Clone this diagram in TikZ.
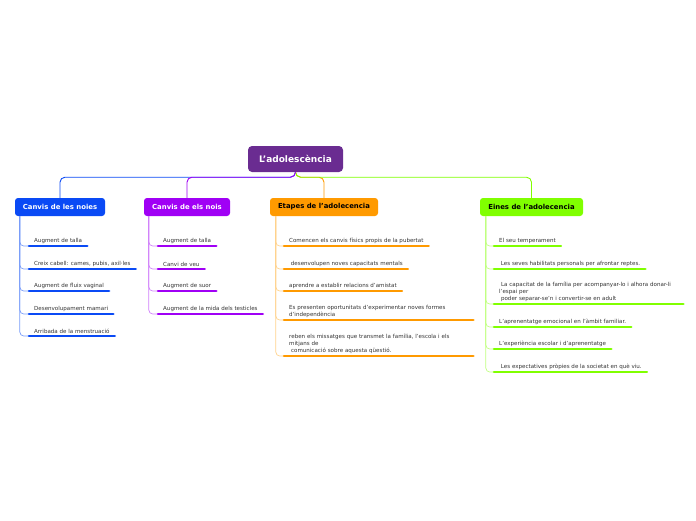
\documentclass[tikz,border=0pt]{standalone}
\usepackage{fontspec}
\setmainfont{DejaVu Sans}
\definecolor{rootc}{HTML}{6A2C91}
\definecolor{bluec}{HTML}{0A4AF5}
\definecolor{purc}{HTML}{A000F5}
\definecolor{orac}{HTML}{FF9A00}
\definecolor{grec}{HTML}{80FF00}
\definecolor{txtc}{HTML}{333333}
\begin{document}
\begin{tikzpicture}[x=1pt,y=-1pt,
  rootbox/.style={fill=rootc,text=white,rounded corners=4pt,minimum width=95pt,minimum height=26pt,font=\bfseries\fontsize{9}{10}\selectfont,inner sep=0pt},
  branchbox/.style={rounded corners=3pt,minimum height=18pt,font=\bfseries\fontsize{6.9}{8}\selectfont,inner sep=0pt},
  child/.style={font=\fontsize{5.55}{6.8}\selectfont,text=txtc,inner xsep=5pt,inner ysep=2.6pt,anchor=south west,align=left},
  widechild/.style={child,text width=179pt},
  uline/.style={line width=2.6pt,line cap=round},
  mainlink/.style={line width=0.9pt,rounded corners=5pt},
  sublink/.style={line width=0.7pt,rounded corners=4pt}]
\useasboundingbox (0,0) rectangle (696,520);

% root and branches
\node[rootbox] (root) at (295.5,159) {L'adolescència};
\node[branchbox,fill=bluec,text=white,minimum width=90pt] (b1) at (60,207) {Canvis de les noies};
\node[branchbox,fill=purc,text=white,minimum width=86pt] (b2) at (187,207) {Canvis de els nois};
\node[branchbox,fill=orac,text=black,minimum width=108pt] (b3) at (324,207) {Etapes de l'adolecencia};
\node[branchbox,fill=grec,text=black,minimum width=103pt] (b4) at (531.5,207) {Eines de l'adolecencia};

\draw[mainlink,bluec] (root.south) -- ++(0,5) -| (b1.north);
\draw[mainlink,orac] (root.south) -- ++(0,5) -| (b3.north);
\draw[mainlink,grec] (root.south) -- ++(0,5) -| (b4.north);
\draw[mainlink,purc] (root.south) -- ++(0,5) -| (b2.north);

% blue children
\node[child] (c11) at (29,246) {Augment de talla};
\node[child] (c12) at (29,269) {Creix cabell: cames, pubis, axil·les};
\node[child] (c13) at (29,291) {Augment de fluix vaginal};
\node[child] (c14) at (29,314) {Desenvolupament mamari};
\node[child] (c15) at (29,336) {Arribada de la menstruació};
\foreach \c in {c11,c12,c13,c14,c15}{
  \draw[sublink,bluec!55] ([xshift=5pt]b1.south west) |- (\c.south west);
  \draw[uline,bluec] (\c.south west) -- (\c.south east);
}

% purple children
\node[child] (c21) at (158,246) {Augment de talla};
\node[child] (c22) at (158,269) {Canvi de veu};
\node[child] (c23) at (158,291) {Augment de suor};
\node[child] (c24) at (158,314) {Augment de la mida dels testicles};
\foreach \c in {c21,c22,c23,c24}{
  \draw[sublink,purc!50] ([xshift=5pt]b2.south west) |- (\c.south west);
  \draw[uline,purc] (\c.south west) -- (\c.south east);
}

% orange children
\node[child] (c31) at (284,246) {Comencen els canvis físics propis de la pubertat};
\node[child] (c32) at (284,269) {\ desenvolupen noves capacitats mentals};
\node[child] (c33) at (284,291) {aprendre a establir relacions d'amistat};
\node[widechild] (c34) at (284,320) {Es presenten oportunitats d'experimentar noves formes\\d'independència};
\node[widechild] (c35) at (284,356) {reben els missatges que transmet la família, l'escola i els\\mitjans de\\\ comunicació sobre aquesta qüestió.};
\foreach \c in {c31,c32,c33,c34,c35}{
  \draw[sublink,orac!45] ([xshift=6pt]b3.south west) |- (\c.south west);
  \draw[uline,orac] (\c.south west) -- (\c.south east);
}

% green children
\node[child] (c41) at (494,246) {El seu temperament};
\node[child] (c42) at (494,269) {\ Les seves habilitats personals per afrontar reptes.};
\node[widechild] (c43) at (494,304) {\ La capacitat de la família per acompanyar-lo i alhora donar-li\\l'espai per\\\ poder separar-se'n i convertir-se en adult};
\node[child] (c44) at (494,327) {L'aprenentatge emocional en l'àmbit familiar.};
\node[child] (c45) at (494,349) {L'experiència escolar i d'aprenentatge};
\node[child] (c46) at (494,372) {\ Les expectatives pròpies de la societat en què viu.};
\foreach \c in {c41,c42,c43,c44,c45,c46}{
  \draw[sublink,grec!50] ([xshift=6pt]b4.south west) |- (\c.south west);
  \draw[uline,grec] (\c.south west) -- (\c.south east);
}
\end{tikzpicture}
\end{document}
